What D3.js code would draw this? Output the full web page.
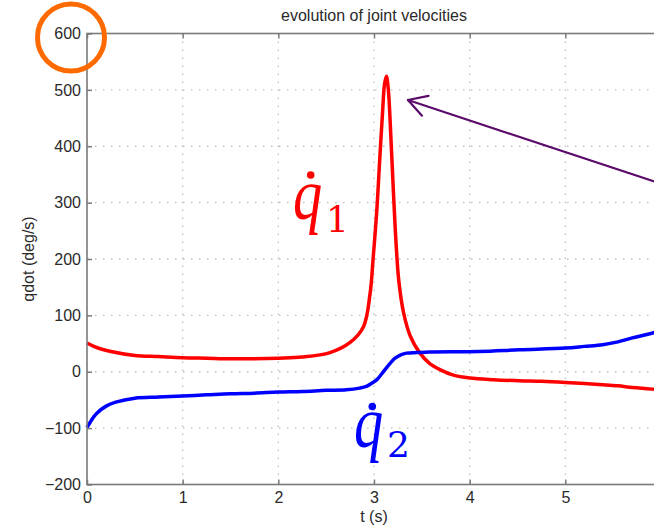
<!DOCTYPE html>
<html><head><meta charset="utf-8">
<script src="https://cdn.jsdelivr.net/npm/d3@7"></script>
<style>body{margin:0;background:#fff;} svg{display:block;}</style>
</head><body>
<script>
// ---- data ----
const title = "evolution of joint velocities";
const xLabel = "t (s)";
const yLabel = "qdot (deg/s)";
const xTicks = [0, 1, 2, 3, 4, 5, 6];
const xTickLabels = [0, 1, 2, 3, 4, 5];
const yTicks = [-200, -100, 0, 100, 200, 300, 400, 500, 600];

const q1T = [0, 0.1, 0.25, 0.5, 0.75, 1.0, 1.25, 1.5, 1.75, 2.0, 2.25, 2.54, 2.75, 2.89, 2.96, 2.99, 3.03, 3.06, 3.09, 3.11, 3.13, 3.15, 3.17, 3.20, 3.23, 3.26, 3.31, 3.38, 3.48, 3.58, 3.70, 3.83, 4.0, 4.25, 4.52, 4.75, 5.0, 5.2, 5.39, 5.55, 5.7, 5.85, 6.0];
const q1V = [51, 43, 36, 29, 27, 25, 24, 23, 23, 24, 26, 34, 52, 80, 140, 199, 288, 377, 462, 510, 524, 500, 440, 330, 230, 160, 104, 63, 33, 15, 3, -6, -11, -14, -16, -17, -19, -21, -23, -25, -28, -30, -32];

const q2T = [0, 0.05, 0.1, 0.2, 0.3, 0.5, 0.75, 1.0, 1.25, 1.5, 1.75, 2.0, 2.25, 2.5, 2.71, 2.85, 2.92, 2.98, 3.03, 3.08, 3.13, 3.18, 3.22, 3.28, 3.34, 3.45, 3.58, 4.1, 4.52, 5.0, 5.2, 5.39, 5.55, 5.7, 5.85, 6.0];
const q2V = [-99, -85, -74, -61, -54, -47, -45, -43, -41, -39, -38, -36, -35, -33, -32, -29, -26, -20, -14, -4, 7, 17, 24, 30, 33, 34, 35, 36, 39, 42, 45, 48, 53, 60, 66, 73];

const labelNames = ["q", "q"];
const labelSubs = ["1", "2"];
const labelColors = ["#ff0000", "#0000ff"];
const arrowTail = [5.99, 334];
const arrowTip = [3.355, 482];

// ---- layout ----
const W = 654, H = 531;
const mLeft = 87, mTop = 33.5, mRight = 661, mBottom = 484.5;

const svg = d3.select("body").append("svg").attr("width", W).attr("height", H)
  .style("font-family", "'Liberation Sans', Arial, Helvetica, sans-serif");

const x = d3.scaleLinear().domain([0, 6]).range([mLeft, mRight]);
const y = d3.scaleLinear().domain([-200, 600]).range([mBottom, mTop]);

const gridColor = "#bdbdbd";
const axisColor = "#7a7a7a";
const textColor = "#2a2a2a";

// grid
const g = svg.append("g");
g.selectAll(".vx").data(xTicks.filter(d => d > 0 && d < 6)).join("line")
  .attr("x1", d => x(d)).attr("x2", d => x(d)).attr("y1", mTop).attr("y2", mBottom)
  .attr("stroke", gridColor).attr("stroke-width", 1.3).attr("stroke-dasharray", "1.5,6.5");
g.selectAll(".hy").data(yTicks.filter(d => d > -200 && d < 600)).join("line")
  .attr("x1", mLeft).attr("x2", mRight).attr("y1", d => y(d)).attr("y2", d => y(d))
  .attr("stroke", gridColor).attr("stroke-width", 1.3).attr("stroke-dasharray", "1.5,6.5");

// lines
const line = d3.line().x(d => x(d[0])).y(d => y(d[1])).curve(d3.curveCatmullRom.alpha(0.5));
svg.append("path").datum(q1T.map((t, i) => [t, q1V[i]]))
  .attr("d", line).attr("fill", "none").attr("stroke", "#ff0000").attr("stroke-width", 3.5)
  .attr("stroke-linejoin", "round");
svg.append("path").datum(q2T.map((t, i) => [t, q2V[i]]))
  .attr("d", line).attr("fill", "none").attr("stroke", "#0000ff").attr("stroke-width", 3.5)
  .attr("stroke-linejoin", "round");

// frame
svg.append("rect").attr("x", mLeft).attr("y", mTop).attr("width", mRight - mLeft).attr("height", mBottom - mTop)
  .attr("fill", "none").attr("stroke", axisColor).attr("stroke-width", 1.6);

// axes ticks (inward)
const xb = svg.append("g").attr("transform", `translate(0,${mBottom})`)
  .call(d3.axisBottom(x).tickValues(xTickLabels).tickSizeInner(-5).tickSizeOuter(0).tickPadding(7).tickFormat(d3.format("d")));
const xt = svg.append("g").attr("transform", `translate(0,${mTop})`)
  .call(d3.axisTop(x).tickValues(xTicks).tickSizeInner(-5).tickSizeOuter(0).tickFormat(""));
const yl = svg.append("g").attr("transform", `translate(${mLeft},0)`)
  .call(d3.axisLeft(y).tickValues(yTicks).tickSizeInner(-5).tickSizeOuter(0).tickPadding(6));
[xb, xt, yl].forEach(a => {
  a.select(".domain").remove();
  a.selectAll(".tick line").attr("stroke", axisColor).attr("stroke-width", 1.5);
  a.selectAll("text").attr("fill", textColor).style("font-size", "16px");
});

// titles
svg.append("text").attr("x", (mLeft + mRight) / 2).attr("y", 21).attr("text-anchor", "middle")
  .attr("fill", textColor).style("font-size", "16px").text(title);
svg.append("text").attr("x", (mLeft + mRight) / 2).attr("y", 522).attr("text-anchor", "middle")
  .attr("fill", textColor).style("font-size", "16px").text(xLabel);
svg.append("text").attr("transform", `translate(34,${(mTop + mBottom) / 2}) rotate(-90)`)
  .attr("text-anchor", "middle").attr("fill", textColor).style("font-size", "16px").text(yLabel);

// curve labels q̇1, q̇2  (pixel anchors: q left, q baseline, sub baseline, dot)
const labelPos = [
  {qx: 293, qy: 219, sx: 326, sy: 232, dx: 310.7, dy: 175},
  {qx: 354, qy: 447, sx: 387, sy: 457, dx: 372.3, dy: 406.5}
];
labelPos.forEach((p, i) => {
  svg.append("text").attr("transform", `translate(${p.qx},${p.qy}) scale(0.8,1)`)
    .attr("fill", labelColors[i])
    .style("font-family", "'Liberation Serif', 'DejaVu Serif', serif")
    .style("font-style", "italic").style("font-size", "73px").text(labelNames[i]);
  svg.append("text").attr("x", p.sx).attr("y", p.sy).attr("fill", labelColors[i])
    .style("font-family", "'DejaVu Serif', 'Liberation Serif', serif")
    .style("font-size", "36px").text(labelSubs[i]);
  svg.append("circle").attr("cx", p.dx).attr("cy", p.dy).attr("r", 3.8).attr("fill", labelColors[i]);
});

// arrow
const ac = "#5a0a6a";
svg.append("line").attr("x1", x(arrowTail[0])).attr("y1", y(arrowTail[1]))
  .attr("x2", x(arrowTip[0])).attr("y2", y(arrowTip[1]))
  .attr("stroke", ac).attr("stroke-width", 2.2);
const tx = x(arrowTip[0]), ty = y(arrowTip[1]);
const ang = Math.atan2(y(arrowTail[1]) - ty, x(arrowTail[0]) - tx);
[0.52, -0.52].forEach(da => {
  svg.append("line").attr("x1", tx).attr("y1", ty)
    .attr("x2", tx + 21 * Math.cos(ang + da)).attr("y2", ty + 21 * Math.sin(ang + da))
    .attr("stroke", ac).attr("stroke-width", 2.2).attr("stroke-linecap", "round");
});

// orange circle around top tick label
svg.append("circle").attr("cx", 71).attr("cy", 37.5).attr("r", 33.5)
  .attr("fill", "none").attr("stroke", "#ff6a00").attr("stroke-width", 5);
</script>
</body></html>
